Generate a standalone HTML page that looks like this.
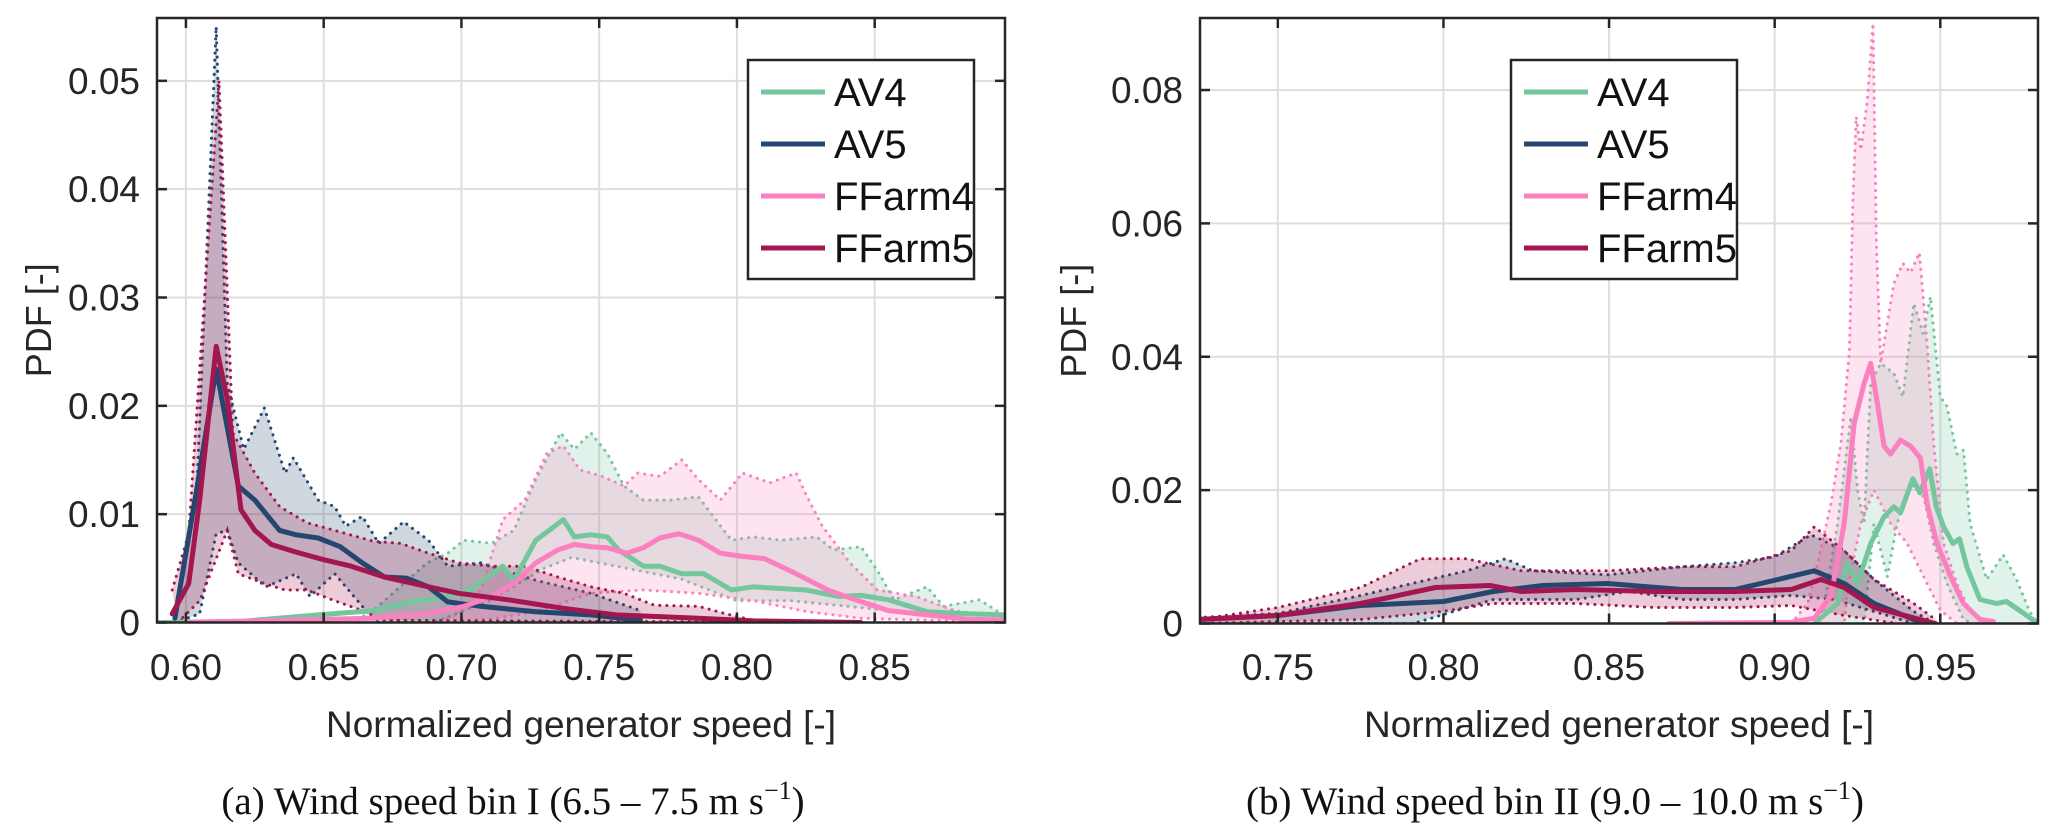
<!DOCTYPE html>
<html><head><meta charset="utf-8"><style>
html,body{margin:0;padding:0;background:#fff;}
svg{display:block;font-family:"Liberation Sans",Arial,sans-serif;}
</style></head><body>
<svg id="fig" width="2067" height="838" viewBox="0 0 2067 838" xmlns="http://www.w3.org/2000/svg">
<defs>
<clipPath id="clipA"><rect x="157" y="18" width="848" height="605"/></clipPath>
<clipPath id="clipB"><rect x="1200" y="18" width="838" height="606"/></clipPath>
</defs>
<g id="panelA"></g>
<g id="panelB"></g>
<text x="513" y="814" text-anchor="middle" font-family="'Liberation Serif',serif" font-size="39" fill="#111">(a) Wind speed bin I (6.5 – 7.5 m s<tspan dy="-15" font-size="26">−1</tspan><tspan dy="15">)</tspan></text>
<text x="1555" y="814" text-anchor="middle" font-family="'Liberation Serif',serif" font-size="39" fill="#111">(b) Wind speed bin II (9.0 – 10.0 m s<tspan dy="-15" font-size="26">−1</tspan><tspan dy="15">)</tspan></text>
</svg>
<script>
// ---- Panel A data (x: normalized generator speed, y: PDF) ----
const aXTicks = [0.60,0.65,0.70,0.75,0.80,0.85];
const aYTicks = [0,0.01,0.02,0.03,0.04,0.05];
const aYTickLabels = ["0","0.01","0.02","0.03","0.04","0.05"];
const aAV4Mean = [[0.59,0],[0.62,0.0001],[0.648,0.0007],[0.668,0.0011],[0.682,0.0019],[0.6915,0.0022],[0.703,0.003],[0.715,0.0052],[0.719,0.0039],[0.727,0.0076],[0.737,0.0095],[0.741,0.0079],[0.747,0.0081],[0.753,0.0079],[0.757,0.0067],[0.766,0.0052],[0.772,0.0052],[0.78,0.0045],[0.788,0.0045],[0.798,0.003],[0.806,0.0033],[0.825,0.003],[0.837,0.0024],[0.845,0.0025],[0.855,0.0021],[0.869,0.001],[0.884,0.0008],[0.898,0.0007]];
const aAV4Upper = [[0.66,0],[0.668,0.0011],[0.6875,0.0055],[0.695,0.0064],[0.701,0.0076],[0.711,0.0073],[0.719,0.0085],[0.727,0.0132],[0.736,0.0175],[0.741,0.016],[0.747,0.0175],[0.753,0.0156],[0.759,0.0126],[0.766,0.0113],[0.776,0.0113],[0.786,0.0116],[0.798,0.0076],[0.806,0.0079],[0.816,0.0076],[0.829,0.0079],[0.835,0.0067],[0.845,0.007],[0.851,0.0048],[0.857,0.0021],[0.869,0.0033],[0.875,0.0015],[0.888,0.0021],[0.898,0.0005]];
const aAV4Lower = [[0.66,0],[0.69,0],[0.71,0.002],[0.73,0.005],[0.74,0.006],[0.76,0.005],[0.78,0.004],[0.80,0.002],[0.82,0.002],[0.84,0.0015],[0.86,0.001],[0.88,0.0003],[0.898,0]];
const aAV5Mean = [[0.596,0.0004],[0.604,0.0124],[0.611,0.0234],[0.619,0.0126],[0.625,0.0113],[0.634,0.0085],[0.64,0.0081],[0.648,0.0078],[0.656,0.007],[0.664,0.0055],[0.672,0.0042],[0.68,0.0041],[0.688,0.0033],[0.695,0.0019],[0.707,0.0015],[0.727,0.001],[0.747,0.0007],[0.765,0.0002]];
const aAV5Upper = [[0.596,0.001],[0.604,0.0125],[0.611,0.055],[0.615,0.022],[0.621,0.016],[0.6285,0.0198],[0.636,0.0138],[0.639,0.0152],[0.648,0.0113],[0.654,0.0107],[0.658,0.0089],[0.664,0.0098],[0.67,0.0073],[0.679,0.0093],[0.688,0.0076],[0.695,0.0052],[0.707,0.0055],[0.727,0.0039],[0.747,0.0027],[0.765,0.0011]];
const aAV5Lower = [[0.596,0],[0.605,0.0008],[0.611,0.0082],[0.615,0.0085],[0.619,0.0055],[0.629,0.0033],[0.64,0.0045],[0.645,0.0024],[0.654,0.0045],[0.664,0.0015],[0.668,0.0002],[0.765,0]];
const aFF4Mean = [[0.60,0],[0.668,0.0004],[0.6875,0.0008],[0.701,0.0015],[0.711,0.0024],[0.719,0.0036],[0.727,0.0055],[0.735,0.0067],[0.741,0.0072],[0.747,0.007],[0.753,0.0069],[0.76,0.0064],[0.766,0.0069],[0.772,0.0078],[0.779,0.0082],[0.786,0.0076],[0.794,0.0064],[0.802,0.0061],[0.81,0.0059],[0.8215,0.0045],[0.833,0.003],[0.843,0.0021],[0.855,0.0011],[0.869,0.0007],[0.884,0.0003],[0.898,0.0002]];
const aFF4Upper = [[0.69,0],[0.699,0.0008],[0.707,0.003],[0.715,0.0095],[0.723,0.0113],[0.731,0.0156],[0.737,0.0163],[0.743,0.0141],[0.751,0.0135],[0.759,0.0126],[0.764,0.0138],[0.772,0.0135],[0.78,0.015],[0.786,0.0132],[0.794,0.0113],[0.802,0.0138],[0.812,0.0129],[0.8215,0.0138],[0.8255,0.0116],[0.831,0.0089],[0.841,0.0055],[0.851,0.003],[0.865,0.0024],[0.879,0.0011],[0.898,0.0004]];
const aFF4Lower = [[0.69,0],[0.71,0.0003],[0.727,0.001],[0.747,0.0027],[0.766,0.003],[0.786,0.0027],[0.806,0.002],[0.8255,0.001],[0.845,0.0004],[0.898,0]];
const aFF5Mean = [[0.595,0.0008],[0.601,0.0036],[0.605,0.0113],[0.611,0.0255],[0.615,0.0206],[0.62,0.0104],[0.625,0.0085],[0.631,0.0072],[0.64,0.0065],[0.65,0.0058],[0.66,0.0052],[0.672,0.0042],[0.688,0.0033],[0.699,0.0027],[0.717,0.0021],[0.737,0.0013],[0.756,0.0007],[0.786,0.0004],[0.806,0.00015],[0.845,0]];
const aFF5Upper = [[0.595,0.003],[0.601,0.0082],[0.612,0.050],[0.617,0.0175],[0.625,0.0138],[0.634,0.0107],[0.644,0.0092],[0.654,0.0085],[0.668,0.0075],[0.678,0.0073],[0.688,0.0064],[0.699,0.0055],[0.711,0.0052],[0.723,0.0052],[0.735,0.0042],[0.747,0.0033],[0.759,0.0027],[0.77,0.0016],[0.786,0.0015],[0.796,0.0008],[0.806,0.0002],[0.845,0]];
const aFF5Lower = [[0.597,0],[0.605,0.002],[0.615,0.0085],[0.619,0.0045],[0.6285,0.0036],[0.636,0.003],[0.644,0.003],[0.654,0.002],[0.664,0.0011],[0.672,0.0002],[0.845,0]];

// ---- Panel B data ----
const bXTicks = [0.75,0.80,0.85,0.90,0.95];
const bYTicks = [0,0.02,0.04,0.06,0.08];
const bYTickLabels = ["0","0.02","0.04","0.06","0.08"];
const bAV4Mean = [[0.912,0],[0.919,0.003],[0.922,0.009],[0.925,0.006],[0.929,0.012],[0.933,0.016],[0.936,0.0175],[0.938,0.0166],[0.9417,0.0217],[0.9438,0.0196],[0.9468,0.0232],[0.9488,0.0175],[0.951,0.0145],[0.9538,0.012],[0.9558,0.0127],[0.958,0.0085],[0.962,0.0036],[0.967,0.003],[0.97,0.0033],[0.9744,0.0018],[0.9795,0]];
const bAV4Upper = [[0.914,0],[0.919,0.015],[0.923,0.031],[0.925,0.02],[0.927,0.015],[0.929,0.036],[0.932,0.039],[0.936,0.0375],[0.9387,0.034],[0.942,0.048],[0.9448,0.0435],[0.947,0.049],[0.9488,0.040],[0.95,0.034],[0.952,0.0326],[0.955,0.0254],[0.957,0.026],[0.959,0.015],[0.964,0.0066],[0.969,0.0103],[0.973,0.0066],[0.977,0.0018],[0.9795,0]];
const bAV4Lower = [[0.914,0],[0.927,0],[0.93,0.015],[0.934,0.007],[0.937,0.015],[0.941,0.021],[0.945,0.019],[0.948,0.012],[0.952,0.006],[0.957,0.0006],[0.96,0]];
const bAV5Mean = [[0.726,0.0006],[0.75,0.0012],[0.775,0.0027],[0.80,0.0033],[0.815,0.0048],[0.83,0.0057],[0.8495,0.006],[0.872,0.0051],[0.888,0.0051],[0.901,0.0066],[0.912,0.0079],[0.921,0.006],[0.93,0.003],[0.942,0.0006],[0.9485,0]];
const bAV5Upper = [[0.726,0.0009],[0.75,0.0015],[0.775,0.0042],[0.807,0.0079],[0.8187,0.0097],[0.827,0.0079],[0.8495,0.0073],[0.872,0.0085],[0.888,0.0091],[0.90,0.010],[0.911,0.0133],[0.921,0.0109],[0.93,0.0066],[0.942,0.0018],[0.9485,0]];
const bAV5Lower = [[0.726,0],[0.791,0],[0.815,0.0036],[0.84,0.0036],[0.856,0.0048],[0.872,0.0036],[0.888,0.0036],[0.905,0.0042],[0.918,0.0036],[0.93,0.0018],[0.942,0]];
const bFF4Mean = [[0.868,0],[0.905,0.0002],[0.912,0.0008],[0.917,0.0042],[0.921,0.015],[0.924,0.030],[0.927,0.036],[0.929,0.039],[0.931,0.033],[0.933,0.0266],[0.935,0.0254],[0.938,0.0275],[0.941,0.0266],[0.944,0.0248],[0.946,0.018],[0.949,0.012],[0.953,0.0072],[0.957,0.003],[0.962,0.0006],[0.966,0.0003]];
const bFF4Upper = [[0.905,0],[0.91,0.003],[0.913,0.009],[0.917,0.018],[0.92,0.027],[0.9226,0.041],[0.9236,0.063],[0.9246,0.076],[0.926,0.071],[0.928,0.0785],[0.9297,0.090],[0.9307,0.057],[0.932,0.039],[0.934,0.045],[0.936,0.051],[0.9387,0.054],[0.941,0.0526],[0.9437,0.0556],[0.945,0.048],[0.946,0.042],[0.948,0.027],[0.951,0.012],[0.955,0.006],[0.959,0.0018],[0.965,0]];
const bFF4Lower = [[0.905,0],[0.921,0],[0.922,0.005],[0.926,0.015],[0.93,0.02],[0.935,0.015],[0.94,0.012],[0.945,0.007],[0.95,0.002],[0.955,0],[0.965,0]];
const bFF5Mean = [[0.726,0.0006],[0.75,0.0012],[0.775,0.003],[0.7976,0.0054],[0.814,0.0057],[0.8235,0.0048],[0.84,0.0051],[0.864,0.0048],[0.888,0.0048],[0.905,0.0051],[0.914,0.0066],[0.921,0.0054],[0.93,0.0024],[0.9485,0]];
const bFF5Upper = [[0.726,0.0006],[0.75,0.0024],[0.775,0.0054],[0.793,0.0097],[0.807,0.0097],[0.8235,0.0079],[0.8495,0.0079],[0.872,0.0085],[0.888,0.0085],[0.905,0.0109],[0.912,0.0145],[0.921,0.0109],[0.93,0.0066],[0.942,0.003],[0.9485,0.0006]];
const bFF5Lower = [[0.726,0],[0.775,0.0006],[0.7995,0.0018],[0.815,0.003],[0.84,0.003],[0.864,0.0024],[0.888,0.0024],[0.905,0.0027],[0.921,0.0012],[0.937,0]];

const seriesNames = ["AV4","AV5","FFarm4","FFarm5"];
const seriesColors = ["#74c69d","#23476e","#fb80bf","#a3164f"];

const NS = "http://www.w3.org/2000/svg";
function mk(tag, attrs, parent){
  const e = document.createElementNS(NS, tag);
  for (const k in attrs) e.setAttribute(k, attrs[k]);
  parent.appendChild(e);
  return e;
}

function drawPanel(g, cfg){
  const sx = v => cfg.x0px + (v - cfg.xmin) / (cfg.xmax - cfg.xmin) * (cfg.x1px - cfg.x0px);
  const sy = v => cfg.y0px - (v - cfg.ymin) / (cfg.ymax - cfg.ymin) * (cfg.y0px - cfg.y1px);
  const L = cfg.x0px, R = cfg.x1px, T = cfg.y1px, B = cfg.y0px;
  cfg.xticks.forEach(t => {
    const gl = mk("line",{x1:sx(t),x2:sx(t),y1:T,y2:B,stroke:"#dedede","stroke-width":2},g);
    
    
  });
  cfg.yticks.forEach(t => {
    const gl = mk("line",{x1:L,x2:R,y1:sy(t),y2:sy(t),stroke:"#dedede","stroke-width":2},g);
    
    
  });
  const dg = mk("g",{"clip-path":"url(#"+cfg.clip+")"},g);
  cfg.series.forEach((s,i) => {
    const col = seriesColors[i];
    const ptsU = s.upper.map(p => sx(p[0]).toFixed(1)+","+sy(p[1]).toFixed(1));
    const ptsL = s.lower.slice().reverse().map(p => sx(p[0]).toFixed(1)+","+sy(p[1]).toFixed(1));
    const band = mk("polygon",{points:ptsU.concat(ptsL).join(" "),fill:col,"fill-opacity":0.22,stroke:"none"},dg);
    
    
    const up = mk("polyline",{points:ptsU.join(" "),fill:"none",stroke:col,"stroke-width":3,"stroke-dasharray":"0.1 7","stroke-linecap":"round"},dg);
    
    
    const lo = mk("polyline",{points:s.lower.map(p => sx(p[0]).toFixed(1)+","+sy(p[1]).toFixed(1)).join(" "),fill:"none",stroke:col,"stroke-width":3,"stroke-dasharray":"0.1 7","stroke-linecap":"round"},dg);
    
    
  });
  cfg.series.forEach((s,i) => {
    const col = seriesColors[i];
    const m = mk("polyline",{points:s.mean.map(p => sx(p[0]).toFixed(1)+","+sy(p[1]).toFixed(1)).join(" "),fill:"none",stroke:col,"stroke-width":5,"stroke-linejoin":"round","stroke-linecap":"round"},dg);
    
    
  });
  const box = mk("rect",{x:L,y:T,width:R-L,height:B-T,fill:"none",stroke:"#262626","stroke-width":2.5},g);
  
  
  cfg.xticks.forEach(t => {
    const X = sx(t);
    mk("line",{x1:X,x2:X,y1:B,y2:B-10,stroke:"#262626","stroke-width":2.5},g);
    mk("line",{x1:X,x2:X,y1:T,y2:T+10,stroke:"#262626","stroke-width":2.5},g);
    const tl = mk("text",{x:X,y:680,"text-anchor":"middle","font-size":37,fill:"#262626"},g);
    tl.textContent = t.toFixed(2);
    
    
  });
  cfg.yticks.forEach((t,k) => {
    const Y = sy(t);
    mk("line",{x1:L,x2:L+10,y1:Y,y2:Y,stroke:"#262626","stroke-width":2.5},g);
    mk("line",{x1:R,x2:R-10,y1:Y,y2:Y,stroke:"#262626","stroke-width":2.5},g);
    const tl = mk("text",{x:L-17,y:Y+13,"text-anchor":"end","font-size":37,fill:"#262626"},g);
    tl.textContent = cfg.ylabels[k];
    
    
  });
  const xl = mk("text",{x:(L+R)/2,y:737,"text-anchor":"middle","font-size":37,fill:"#262626"},g);
  xl.textContent = "Normalized generator speed [-]";
  
  
  const yl = mk("text",{x:0,y:0,"text-anchor":"middle","font-size":36,fill:"#262626",transform:"translate("+cfg.ylabelX+","+((T+B)/2)+") rotate(-90)"},g);
  yl.textContent = "PDF [-]";
  
  
  const lg = mk("g",{},g);
  
  
  mk("rect",{x:cfg.legX,y:60,width:226,height:219,fill:"#fff",stroke:"#262626","stroke-width":2.5},lg);
  seriesNames.forEach((n,i) => {
    const ry = 92 + i*52;
    const e = mk("g",{},lg);
    
    
    mk("line",{x1:cfg.legX+13,x2:cfg.legX+77,y1:ry,y2:ry,stroke:seriesColors[i],"stroke-width":5},e);
    const t = mk("text",{x:cfg.legX+86,y:ry+14,"font-size":40,fill:"#111"},e);
    t.textContent = n;
  });
}

drawPanel(document.getElementById("panelA"),{
  x0px:157,x1px:1005,y0px:622.5,y1px:18,xmin:0.5895,xmax:0.8973,ymin:0,ymax:0.0558,
  xticks:aXTicks,yticks:aYTicks,ylabels:aYTickLabels,clip:"clipA",ylabelX:51,legX:748,
  series:[
    {mean:aAV4Mean,upper:aAV4Upper,lower:aAV4Lower},
    {mean:aAV5Mean,upper:aAV5Upper,lower:aAV5Lower},
    {mean:aFF4Mean,upper:aFF4Upper,lower:aFF4Lower},
    {mean:aFF5Mean,upper:aFF5Upper,lower:aFF5Lower}
  ]});
drawPanel(document.getElementById("panelB"),{
  x0px:1200,x1px:2038,y0px:623.5,y1px:18,xmin:0.7265,xmax:0.9795,ymin:0,ymax:0.0908,
  xticks:bXTicks,yticks:bYTicks,ylabels:bYTickLabels,clip:"clipB",ylabelX:1086,legX:1511,
  series:[
    {mean:bAV4Mean,upper:bAV4Upper,lower:bAV4Lower},
    {mean:bAV5Mean,upper:bAV5Upper,lower:bAV5Lower},
    {mean:bFF4Mean,upper:bFF4Upper,lower:bFF4Lower},
    {mean:bFF5Mean,upper:bFF5Upper,lower:bFF5Lower}
  ]});
</script>
</body></html>
